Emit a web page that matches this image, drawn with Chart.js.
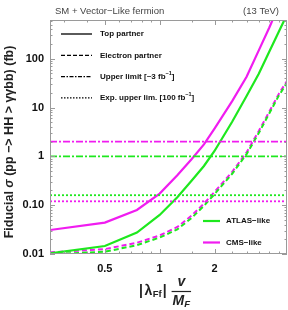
<!DOCTYPE html>
<html>
<head>
<meta charset="utf-8">
<script src="https://cdn.jsdelivr.net/npm/chart.js@4.4.0/dist/chart.umd.min.js"></script>
<style>
  html, body { margin: 0; padding: 0; background: #fff; }
</style>
</head>
<body>
<canvas id="chart" width="288" height="310"></canvas>
<script>
// Coupling values |lambda| v / M_F (x axis)
const couplings = [0.25, 0.5, 0.75, 1, 1.25, 1.5, 1.75, 2, 2.5, 3, 3.5, 4, 4.5, 5];

// Fiducial cross sections (fb)
const cmsTop = [0.031, 0.044, 0.080, 0.173, 0.41, 0.885, 1.76, 3.70, 13.5, 42.8, 148, 436, 1200, 2950];
const atlasTop = [0.0103, 0.0146, 0.0275, 0.063, 0.145, 0.32, 0.635, 1.29, 5.1, 17.2, 49, 140, 352, 800];
const cmsElectron = [0.0108, 0.0126, 0.017, 0.024, 0.0357, 0.0615, 0.108, 0.186, 0.48, 1.21, 3.3, 8.3, 18.8, 35];
const atlasElectron = [0.0099, 0.0111, 0.0152, 0.0217, 0.032, 0.055, 0.097, 0.168, 0.44, 1.11, 3.0, 7.6, 17.3, 32];

// Upper limits (fb)
const cmsUpperLimit = 2.0;
const atlasUpperLimit = 1.0;
const atlasExpLimit = 0.16;
const cmsExpLimit = 0.12;

// Axis ticks
const xTickValues = [0.5, 1, 2];
const xMinorTicks = [0.3, 0.4, 0.6, 0.7, 0.8, 0.9, 1.5, 2.5, 3, 3.5, 4, 4.5];
const yTickValues = [0.01, 0.1, 1, 10, 100];
const yTickLabels = ['0.01', '0.10', '1', '10', '100'];

const GREEN = '#1ee81e';
const MAGENTA = '#f01cf0';
const FONT = "'Liberation Sans', Arial, sans-serif";

function curve(values) {
  return couplings.map((c, i) => ({ x: c, y: values[i] }));
}
function flat(v) {
  return [{ x: couplings[0], y: v }, { x: couplings[couplings.length - 1], y: v }];
}

function lineSet(label, data, color, dash, width) {
  return {
    label: label,
    data: data,
    borderColor: color,
    backgroundColor: color,
    borderWidth: width,
    borderDash: dash,
    pointRadius: 0,
    showLine: true,
    fill: false,
    tension: 0
  };
}

// draws a run of text pieces (font / vertical shift) left to right
function drawRich(ctx, parts, x, y) {
  let cx = x;
  parts.forEach(p => {
    ctx.font = p.font;
    ctx.fillText(p.text, cx, y + (p.dy || 0));
    cx += ctx.measureText(p.text).width + (p.gap || 0);
  });
  return cx;
}
function richWidth(ctx, parts) {
  let w = 0;
  parts.forEach(p => { ctx.font = p.font; w += ctx.measureText(p.text).width + (p.gap || 0); });
  return w;
}

const decorPlugin = {
  id: 'decor',
  afterDraw(chart) {
    const { ctx, chartArea: a, scales } = chart;
    const xs = scales.x, ys = scales.y;
    ctx.save();

    // frame
    ctx.strokeStyle = '#9a9a9a';
    ctx.lineWidth = 1;
    ctx.setLineDash([]);
    ctx.strokeRect(a.left + 0.5, a.top + 0.5, a.right - a.left - 1, a.bottom - a.top - 1);

    // y ticks, both sides
    ctx.beginPath();
    yTickValues.forEach(d => {
      for (let m = 1; m <= 9; m++) {
        const v = d * m;
        if (v > ys.max) break;
        const py = Math.round(ys.getPixelForValue(v)) + 0.5;
        const len = m === 1 ? 5 : 2.5;
        ctx.moveTo(a.left, py); ctx.lineTo(a.left + len, py);
        ctx.moveTo(a.right, py); ctx.lineTo(a.right - len, py);
      }
    });
    // x ticks, top and bottom
    xTickValues.concat(xMinorTicks).forEach(v => {
      const px = Math.round(xs.getPixelForValue(v)) + 0.5;
      const len = xTickValues.includes(v) ? 5 : 2.5;
      ctx.moveTo(px, a.bottom); ctx.lineTo(px, a.bottom - len);
      ctx.moveTo(px, a.top); ctx.lineTo(px, a.top + len);
    });
    ctx.stroke();

    // header
    ctx.fillStyle = '#444';
    ctx.font = '9.5px ' + FONT;
    ctx.textBaseline = 'middle';
    ctx.textAlign = 'left';
    ctx.fillText('SM + Vector\u2212Like fermion', 55, 11);
    ctx.textAlign = 'right';
    ctx.fillText('(13 TeV)', 279, 11);

    // y axis title
    ctx.fillStyle = '#222';
    ctx.textAlign = 'left';
    const yParts = [
      { text: 'Fiducial ', font: 'bold 12.5px ' + FONT },
      { text: '\u03c3', font: 'italic bold 12.5px ' + FONT },
      { text: ' (pp \u2212> HH > \u03b3\u03b3bb) (fb)', font: 'bold 12.5px ' + FONT }
    ];
    ctx.save();
    ctx.translate(10, 142);
    ctx.rotate(-Math.PI / 2);
    drawRich(ctx, yParts, -richWidth(ctx, yParts) / 2, 0);
    ctx.restore();

    // x axis title: |lambda_Ff| v / M_F
    const bold = 'bold 14px ' + FONT;
    const sub = 'bold 9.5px ' + FONT;
    let cx = drawRich(ctx, [
      { text: '|', font: bold, gap: 1.5 },
      { text: '\u03bb', font: bold, gap: 0.5 },
      { text: 'Ff', font: sub, dy: 3, gap: 1 },
      { text: '|', font: bold }
    ], 139, 291);
    const fx = cx + 6;
    const mParts = [
      { text: 'M', font: 'italic bold 14px ' + FONT },
      { text: 'F', font: 'italic bold 9.5px ' + FONT, dy: 3 }
    ];
    const fw = richWidth(ctx, mParts);
    ctx.textAlign = 'center';
    ctx.font = 'italic bold 14px ' + FONT;
    ctx.fillText('v', fx + fw / 2, 282);
    ctx.textAlign = 'left';
    drawRich(ctx, mParts, fx, 301);
    ctx.strokeStyle = '#222';
    ctx.lineWidth = 1.2;
    ctx.beginPath();
    ctx.moveTo(fx - 1, 291.5); ctx.lineTo(fx + fw + 1, 291.5);
    ctx.stroke();

    // line style legend (top left)
    const styleKey = [
      { dash: [], text: [{ text: 'Top partner', font: 'bold 8px ' + FONT }] },
      { dash: [4, 2], text: [{ text: 'Electron partner', font: 'bold 8px ' + FONT }] },
      { dash: [4, 1.5, 1.5, 1.5], text: [
        { text: 'Upper limit [~3 fb', font: 'bold 8px ' + FONT },
        { text: '\u22121', font: 'bold 5.5px ' + FONT, dy: -3 },
        { text: ']', font: 'bold 8px ' + FONT }
      ] },
      { dash: [1.5, 1.5], text: [
        { text: 'Exp. upper lim. [100 fb', font: 'bold 8px ' + FONT },
        { text: '\u22121', font: 'bold 5.5px ' + FONT, dy: -3 },
        { text: ']', font: 'bold 8px ' + FONT }
      ] }
    ];
    styleKey.forEach((k, i) => {
      const ly = 34 + i * 21.3;
      ctx.strokeStyle = '#000';
      ctx.lineWidth = 1.3;
      ctx.setLineDash(k.dash);
      ctx.beginPath();
      ctx.moveTo(61, ly); ctx.lineTo(92, ly);
      ctx.stroke();
      ctx.fillStyle = '#111';
      drawRich(ctx, k.text, 100, ly);
    });
    ctx.setLineDash([]);

    // experiment legend (bottom right)
    [['ATLAS\u2212like', GREEN, 221], ['CMS\u2212like', MAGENTA, 242.5]].forEach(e => {
      ctx.strokeStyle = e[1];
      ctx.lineWidth = 2.2;
      ctx.beginPath();
      ctx.moveTo(203, e[2]); ctx.lineTo(220, e[2]);
      ctx.stroke();
      ctx.fillStyle = '#111';
      ctx.font = 'bold 8px ' + FONT;
      ctx.fillText(e[0], 226, e[2]);
    });

    ctx.restore();
  }
};

new Chart(document.getElementById('chart').getContext('2d'), {
  type: 'scatter',
  data: {
    datasets: [
      lineSet('CMS upper limit', flat(cmsUpperLimit), MAGENTA, [7, 2, 2, 2], 1.6),
      lineSet('ATLAS upper limit', flat(atlasUpperLimit), GREEN, [7, 2, 2, 2], 1.6),
      lineSet('ATLAS exp. limit', flat(atlasExpLimit), GREEN, [2, 2], 1.8),
      lineSet('CMS exp. limit', flat(cmsExpLimit), MAGENTA, [2, 2], 1.8),
      lineSet('CMS top', curve(cmsTop), MAGENTA, [], 2.2),
      lineSet('ATLAS top', curve(atlasTop), GREEN, [], 2.2),
      lineSet('ATLAS electron', curve(atlasElectron), GREEN, [5, 3], 2),
      lineSet('CMS electron', curve(cmsElectron), MAGENTA, [5, 3], 2)
    ]
  },
  options: {
    responsive: false,
    animation: false,
    layout: { padding: { top: 20, right: 1, left: 0, bottom: 0 } },
    plugins: {
      legend: { display: false },
      tooltip: { enabled: false }
    },
    scales: {
      x: {
        type: 'logarithmic',
        min: 0.25,
        max: 5,
        grid: { display: false, tickLength: 0 },
        border: { display: false },
        afterBuildTicks: (scale) => { scale.ticks = xTickValues.map(v => ({ value: v })); },
        afterFit: (scale) => { scale.height = 56; },
        ticks: {
          padding: 8,
          color: '#111',
          font: { family: FONT, size: 11, weight: 'bold' },
          callback: (v) => String(v)
        }
      },
      y: {
        type: 'logarithmic',
        min: 0.01,
        max: 620,
        grid: { display: false, tickLength: 0 },
        border: { display: false },
        afterBuildTicks: (scale) => { scale.ticks = yTickValues.map(v => ({ value: v })); },
        afterFit: (scale) => { scale.width = 50; },
        ticks: {
          padding: 6,
          color: '#111',
          font: { family: FONT, size: 11, weight: 'bold' },
          callback: (v) => yTickLabels[yTickValues.indexOf(v)]
        }
      }
    }
  },
  plugins: [decorPlugin]
});
</script>
</body>
</html>
